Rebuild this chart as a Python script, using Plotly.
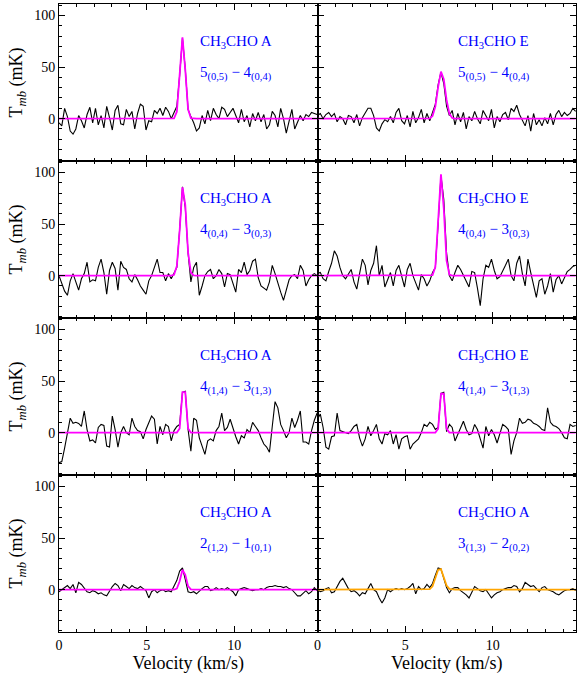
import plotly.graph_objects as go
from plotly.subplots import make_subplots
import math

# ---------------- data ----------------
channel_width = 0.16          # km/s
n_channels = 93
velocity = [round(channel_width * k, 2) for k in range(n_channels)]

spec_A_505_404 = [-4, -7, 10, 2, -12, -15, -10, 3, -2, -9,
                  4, 11, -4, 10, -6, 3, -9, 12, 1, -11,
                  8, 13, -5, -6, 9, 2, 7, -10, 5, 14,
                  12, -11, -2, -3, 8, 5, 10, 3, 11, 7,
                  0, 6, 12, 42, 78, 48, 9,
                  2, -4, -12, -9, 3, -5, 8, -2, 10, 4,
                  0, 11, 9, 2, 6, 10, 3, -4, 9, -3,
                  3, -8, 5, -2, 6, -3, 4, -10, -6, 7,
                  3, -8, 10, 0, -14, -3, 9, -10, -3, 3,
                  -2, 4, 2, 6, 5, 4]

spec_E_505_404 = [3, 5, 0, 4, 6, 2, 5, -3, 2, 0,
                  -6, 3, 2, -4, 4, -7, 1, 5, 10, 10,
                  3, -9, -12, -5, -1, -3, 2, -4, 6, 10,
                  -2, -5, 3, -8, 7, -4, 1, 9, -4, 5,
                  -2, 6, 14, 33, 45, 34, 12,
                  3, 8, -6, 5, -3, 6, -10, 2, -2, 7,
                  0, -5, 8, 3, -2, 9, -9, 2, -3, 4,
                  6, -1, 10, 7, 13, 4, -2, -7, 3, -12,
                  5, -6, -1, -7, 1, -5, 5, -6, 4, 8,
                  2, 6, 3, 5, 10, 7]

spec_A_404_303 = [0, -8, -15, -19, -5, 2, -6, -14, -3, 2,
                  13, -6, -4, -5, 8, 16, 3, -18, 5, 13,
                  7, -14, 14, 8, 6, -3, -6, 1, -4, -10,
                  -14, -18, -5, 0, 8, 16, 3, 3, -5, 2,
                  -3, 2, 8, 45, 86, 66, 22,
                  -6, 8, 13, -19, -10, 0, 4, 6, -3, 0,
                  6, 2, -11, 2, 1, -8, -16, 6, 3, 13,
                  1, 5, 14, 16, -2, -10, -12, -14, -6, 10,
                  2, -8, -16, -24, -15, -4, 0, 1, -3, 10,
                  5, -10, -4, 0, 2, 0]

spec_E_404_303 = [2, 3, -3, -5, 4, 12, 24, 19, 8, 0,
                  -3, 1, 6, -6, -13, 2, 16, 10, -9, 5,
                  12, 29, 0, 10, -11, -4, 3, -10, 5, 10,
                  -2, -11, 6, 12, 0, -8, -14, 1, -3, -10,
                  -5, 3, 8, 50, 97, 74, 22,
                  0, -5, 3, 10, 6, 0, -6, -11, 4, 3,
                  -12, -29, -3, 10, 8, 16, 5, -3, -1, 4,
                  10, 16, 0, -5, 12, 19, 2, -10, 16, 3,
                  -8, -21, -5, -3, -18, -10, 2, -16, -4, 0,
                  -8, -2, 4, 6, 9, 10]

spec_A_414_313 = [-29, -28, -15, 0, 14, 9, 10, 9, 6, 21,
                  3, -8, -7, -10, 5, 8, 7, -13, -14, 16,
                  3, -14, 0, 6, 0, -2, 14, 6, 2, 1,
                  -6, 3, 10, 16, 13, -11, 6, -2, 8, 6,
                  -8, 2, 6, 8, 39, 40, 3,
                  -18, 14, 12, -5, -13, -21, -8, -6, -8, 2,
                  6, 19, 2, 5, 13, 4, -4, -11, -3, -5,
                  3, 0, 10, 6, 2, -5, -11, -14, -19, 6,
                  30, 24, 8, 2, -5, 0, 14, 5, 12, 21,
                  -9, -9, -11, 2, 12, 19]

spec_E_414_313 = [13, 18, 5, -14, -16, -4, -3, 19, 2, 1,
                  0, -1, 2, 6, 8, -5, -13, -6, 6, -3,
                  2, 8, -6, -11, -1, -2, 2, -11, -2, -16,
                  -6, -4, -3, -16, -11, -8, -6, 0, 8, 6,
                  10, 8, 3, 5, 38, 39, 1,
                  8, 5, -8, -2, 4, 11, 3, -2, -1, 8,
                  3, -5, -15, 6, -3, 3, -2, -10, 0, 8,
                  6, 3, -21, -8, 0, 14, 9, 10, 13, 12,
                  9, 8, 6, 3, 2, 24, 10, 7, 6, 4,
                  0, -5, -6, 8, 6, 7]

spec_A_212_101 = [-2, 0, 2, 4, 1, 5, -3, 7, 5, 1,
                  -2, -3, -1, -2, -4, -3, -5, -6, -1, 3,
                  6, 4, -1, 5, 3, 1, 4, 2, 1, 3,
                  1, -1, -8, -2, 0, -3, -1, 0, -2, -1,
                  -2, 3, 9, 18, 21, 10, -2,
                  -3, -2, -4, -1, 1, 3, 3, -1, 0, 2,
                  0, 1, 0, 2, 0, -2, -6, 0, 1, 2,
                  1, 0, -1, 0, 0, 1, 0, 2, 3, 3,
                  4, 3, 3, 2, 3, 1, 0, -3, -6, -6,
                  -3, -1, -4, -2, 2, -1]

spec_A_313_202 = [0, -2, -1, 1, 2, -3, -2, 3, 8, 11,
                  6, 1, -2, -1, -3, -6, -3, -4, 1, 6,
                  0, -2, -8, -13, -8, 0, -2, 0, 1, 0,
                  1, 0, 1, 3, 6, -4, 3, 0, 1, 5,
                  2, 6, 14, 21, 20, 10, 2,
                  -3, 1, 2, 2, -1, -3, -5, -8, -2, 3,
                  1, -1, -2, 0, -4, -8, -5, -3, -2, 0,
                  1, 2, 2, 4, 3, -2, 1, 7, 5, 3,
                  4, 1, -2, 2, 3, 0, -1, -2, -4, -5,
                  -3, -1, 0, 0, 1, -1]

# Gaussian fit parameters: amplitude (mK), centre (km/s), FWHM (km/s)
fit_amplitude = [79, 46, 88, 99, 52, 50, 20, 21]
fit_center    = [7.05, 7.07, 7.08, 7.06, 7.12, 7.12, 7.08, 6.97]
fit_fwhm      = [0.35, 0.50, 0.40, 0.36, 0.25, 0.25, 0.35, 0.50]

species_labels = ["CH<sub>3</sub>CHO A", "CH<sub>3</sub>CHO E",
                  "CH<sub>3</sub>CHO A", "CH<sub>3</sub>CHO E",
                  "CH<sub>3</sub>CHO A", "CH<sub>3</sub>CHO E",
                  "CH<sub>3</sub>CHO A", "CH<sub>3</sub>CHO A"]
transition_labels = ["5<sub>(0,5)</sub> \u2212 4<sub>(0,4)</sub>",
                     "5<sub>(0,5)</sub> \u2212 4<sub>(0,4)</sub>",
                     "4<sub>(0,4)</sub> \u2212 3<sub>(0,3)</sub>",
                     "4<sub>(0,4)</sub> \u2212 3<sub>(0,3)</sub>",
                     "4<sub>(1,4)</sub> \u2212 3<sub>(1,3)</sub>",
                     "4<sub>(1,4)</sub> \u2212 3<sub>(1,3)</sub>",
                     "2<sub>(1,2)</sub> \u2212 1<sub>(0,1)</sub>",
                     "3<sub>(1,3)</sub> \u2212 2<sub>(0,2)</sub>"]

spectra = [spec_A_505_404, spec_E_505_404, spec_A_404_303, spec_E_404_303,
           spec_A_414_313, spec_E_414_313, spec_A_212_101, spec_A_313_202]
fit_colors = ["#ff00ff"] * 7 + ["#ffa500"]

# ---------------- figure ----------------
FONT = "Liberation Serif, Times New Roman, serif"
fig = make_subplots(rows=4, cols=2, horizontal_spacing=0, vertical_spacing=0)


def gaussian(v, a, c, w):
    return a * math.exp(-4 * math.log(2) * ((v - c) / w) ** 2)


for i in range(8):
    row, col = i // 2 + 1, i % 2 + 1
    fit = [gaussian(v, fit_amplitude[i], fit_center[i], fit_fwhm[i]) for v in velocity]
    fig.add_trace(go.Scatter(x=velocity, y=spectra[i], mode="lines",
                             line=dict(color="black", width=1.1),
                             showlegend=False, hoverinfo="skip"), row=row, col=col)
    fig.add_trace(go.Scatter(x=velocity, y=fit, mode="lines",
                             line=dict(color=fit_colors[i], width=1.8),
                             showlegend=False, hoverinfo="skip"), row=row, col=col)
    suffix = "" if i == 0 else str(i + 1)
    fig.add_annotation(x=7.9, y=74, xref="x" + suffix, yref="y" + suffix,
                       text=species_labels[i], showarrow=False, xanchor="left",
                       yanchor="middle", font=dict(family=FONT, size=15, color="blue"))
    fig.add_annotation(x=7.9, y=44, xref="x" + suffix, yref="y" + suffix,
                       text=transition_labels[i], showarrow=False, xanchor="left",
                       yanchor="middle", font=dict(family=FONT, size=15, color="blue"))

axis_common = dict(showline=True, mirror="allticks", linecolor="black", linewidth=1,
                   ticks="inside", tickcolor="black", tickwidth=1, ticklen=6,
                   showgrid=False, zeroline=False, automargin=False,
                   tickfont=dict(family=FONT, size=14, color="black"))

fig.update_xaxes(range=[0, 14.74], tick0=0, dtick=5, showticklabels=False,
                 minor=dict(ticks="inside", dtick=1, ticklen=3, tickcolor="black",
                            showgrid=False),
                 **axis_common)
fig.update_yaxes(range=[-41, 111], tickvals=[0, 50, 100], showticklabels=False,
                 minor=dict(ticks="inside", tick0=0, dtick=10, ticklen=3,
                            tickcolor="black", showgrid=False),
                 **axis_common)

for c in (1, 2):
    fig.update_xaxes(showticklabels=True, row=4, col=c,
                     title=dict(text="Velocity (km/s)", standoff=2,
                                font=dict(family=FONT, size=18, color="black")))
for r in range(1, 5):
    fig.update_yaxes(showticklabels=True, row=r, col=1,
                     title=dict(text="T<sub><i>mb</i></sub> (mK)", standoff=6,
                                font=dict(family=FONT, size=18, color="black")))

fig.update_layout(width=577, height=674,
                  margin=dict(l=59, r=1, t=4, b=42),
                  paper_bgcolor="white", plot_bgcolor="white",
                  font=dict(family=FONT, color="black"))

fig.write_html("out.html",
               config={"displayModeBar": False, "staticPlot": True},
               post_script="document.body.style.margin='0px';"
                           "document.body.style.padding='0px';"
                           "document.body.style.overflow='hidden';")
